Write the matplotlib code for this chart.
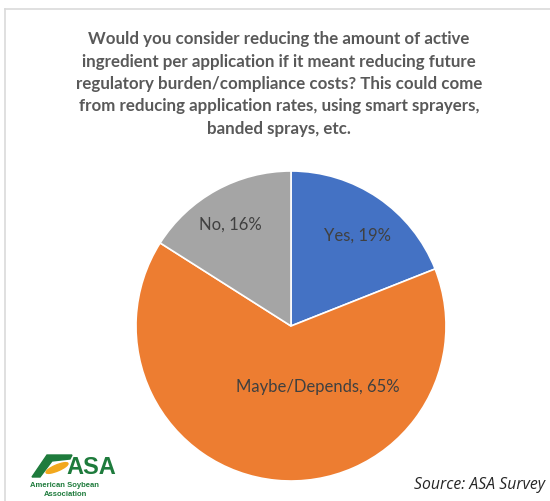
import numpy as np
import matplotlib
matplotlib.use('Agg')
import matplotlib.pyplot as plt
from matplotlib.lines import Line2D
from matplotlib.patches import Polygon, Ellipse

# 数据
labels = ['Yes', 'Maybe/Depends', 'No']
values = [19, 65, 16]
colors = ['#4472C4', '#ED7D31', '#A5A5A5']

title = ('Would you consider reducing the amount of active\n'
         'ingredient per application if it meant reducing future\n'
         'regulatory burden/compliance costs? This could come\n'
         'from reducing application rates, using smart sprayers,\n'
         'banded sprays, etc.')

W, H = 550, 502
fig = plt.figure(figsize=(W / 100, H / 100), dpi=100)
fig.patch.set_facecolor('white')

# 边框
fig.add_artist(Line2D([5 / W, 1], [1 - 10 / H, 1 - 10 / H], color='#DADADA', lw=1.2))
fig.add_artist(Line2D([5 / W, 5 / W], [0, 1 - 10 / H], color='#DADADA', lw=1.2))

# 标题
fig.text(279 / W, 1 - 84 / H, title, ha='center', va='center', fontsize=12.15,
         fontweight='bold', color='#595959', family='Lato', linespacing=1.5)

# 饼图
cx, cy, r = 291, 327, 155
ax = fig.add_axes([(cx - r) / W, (H - cy - r) / H, 2 * r / W, 2 * r / H])
wedges, _ = ax.pie(values, colors=colors, startangle=90, counterclock=False,
                   wedgeprops=dict(edgecolor='white', linewidth=1.2))
ax.set_xlim(-1, 1)
ax.set_ylim(-1, 1)
ax.set_aspect('equal')
ax.axis('off')

# 标签位置 (半径, 角度偏移)
label_r = [0.73, 0.425, 0.77]
label_shift = [-2, 29, 2]
for w, lab, v, rr, sh in zip(wedges, labels, values, label_r, label_shift):
    ang = np.deg2rad((w.theta1 + w.theta2) / 2 + sh)
    ax.text(rr * np.cos(ang), rr * np.sin(ang), f'{lab}, {v}%', ha='center', va='center',
            fontsize=12, color='#404040', family='Lato')

# 来源
fig.text(1 - 5 / W, 1 - 485 / H, 'Source: ASA Survey', ha='right', va='center',
         fontsize=11.3, style='italic', color='#262626', family='Open Sans')

# ASA 标志
green = '#1E7B3C'
fig.add_artist(Polygon([[32 / W, 1 - 478 / H], [47 / W, 1 - 456 / H], [72 / W, 1 - 456 / H],
                        [70 / W, 1 - 460 / H], [52 / W, 1 - 462 / H], [40 / W, 1 - 478 / H]],
                       closed=True, color=green, transform=fig.transFigure))
fig.add_artist(Ellipse((57 / W, 1 - 469 / H), 24 / W, 6 / H, angle=25, color='#F2A81D',
                       transform=fig.transFigure))
fig.text(66 / W, 1 - 468 / H, 'ASA', ha='left', va='center', fontsize=17, fontweight='bold',
         color=green, family='Liberation Sans')
fig.text(64 / W, 1 - 486 / H, 'American Soybean', ha='center', va='center', fontsize=5.5,
         color=green, family='Liberation Sans', fontweight='bold')
fig.text(66 / W, 1 - 495 / H, 'Association', ha='center', va='center', fontsize=5.5,
         color=green, family='Liberation Sans', fontweight='bold')

fig.savefig('out.png', dpi=100)
